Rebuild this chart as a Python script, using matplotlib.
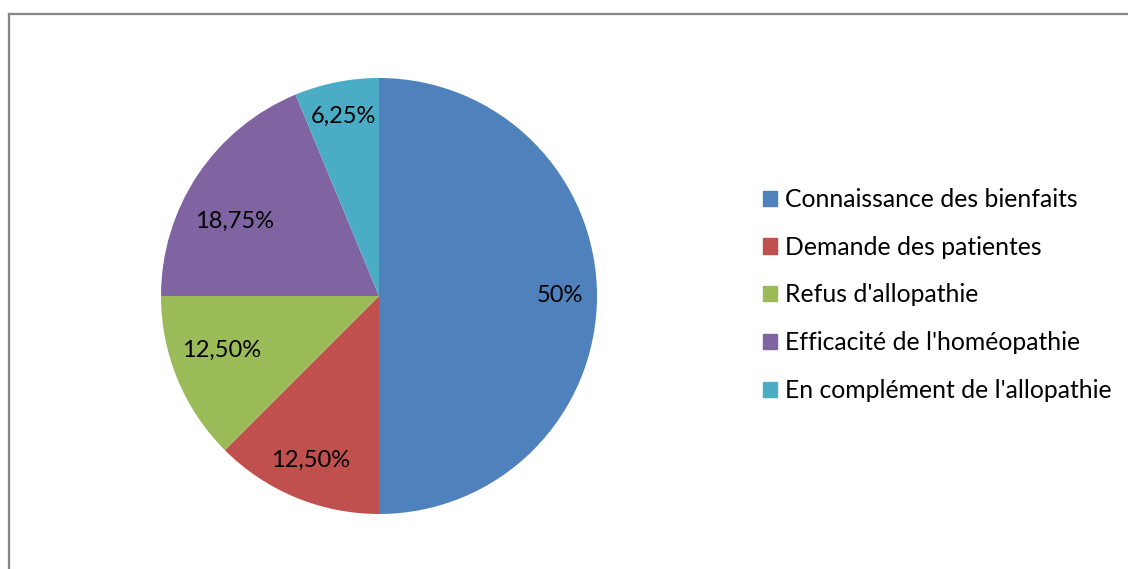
import numpy as np
import matplotlib
matplotlib.use("Agg")
import matplotlib.pyplot as plt
from matplotlib.lines import Line2D

categories = ["Connaissance des bienfaits", "Demande des patientes", "Refus d'allopathie",
              "Efficacité de l'homéopathie", "En complément de l'allopathie"]
values = [50, 12.5, 12.5, 18.75, 6.25]
labels = ["50%", "12,50%", "12,50%", "18,75%", "6,25%"]
colors = ["#4F81BD", "#C0504D", "#9BBB59", "#8064A2", "#4BACC6"]
# data label placement: fraction of radius and angle nudge (deg), like Excel's best fit
label_r = [0.83, 0.818, 0.762, 0.743, 0.839]
label_da = [0, 0, -3.5, 6.5, 0]

plt.rcParams['font.family'] = ['Lato', 'DejaVu Sans']

W, H = 1128, 569
fig = plt.figure(figsize=(W / 100, H / 100), dpi=100)

# grey frame (left and top edges visible)
fig.add_artist(Line2D([8.5 / W, 8.5 / W], [0, 1 - 13.5 / H], transform=fig.transFigure,
                      color="#878787", lw=1.6))
fig.add_artist(Line2D([8.5 / W, 1], [1 - 13.5 / H, 1 - 13.5 / H], transform=fig.transFigure,
                      color="#878787", lw=1.6))

cx, cy, r = 379, 296, 218
ax = fig.add_axes([(cx - r) / W, (H - cy - r) / H, 2 * r / W, 2 * r / H])
wedges, _ = ax.pie(values, colors=colors, startangle=90, counterclock=False, radius=1,
                   wedgeprops=dict(linewidth=0))
ax.set_xlim(-1, 1)
ax.set_ylim(-1, 1)
ax.set_aspect("equal")
ax.axis("off")

for w, lab, d, da in zip(wedges, labels, label_r, label_da):
    ang = np.deg2rad((w.theta1 + w.theta2) / 2 + da)
    ax.text(d * np.cos(ang), d * np.sin(ang), lab, ha="center", va="center",
            fontsize=17, color="black")

handles = [plt.Rectangle((0, 0), 1, 1, color=c) for c in colors]
fig.legend(handles, categories, loc="center left", bbox_to_anchor=(763 / W, 1 - 295 / H),
           frameon=False, fontsize=17.8, handlelength=0.57, handleheight=0.57,
           handletextpad=0.3, labelspacing=1.0, borderaxespad=0, borderpad=0)

fig.savefig("out.png", dpi=100)
